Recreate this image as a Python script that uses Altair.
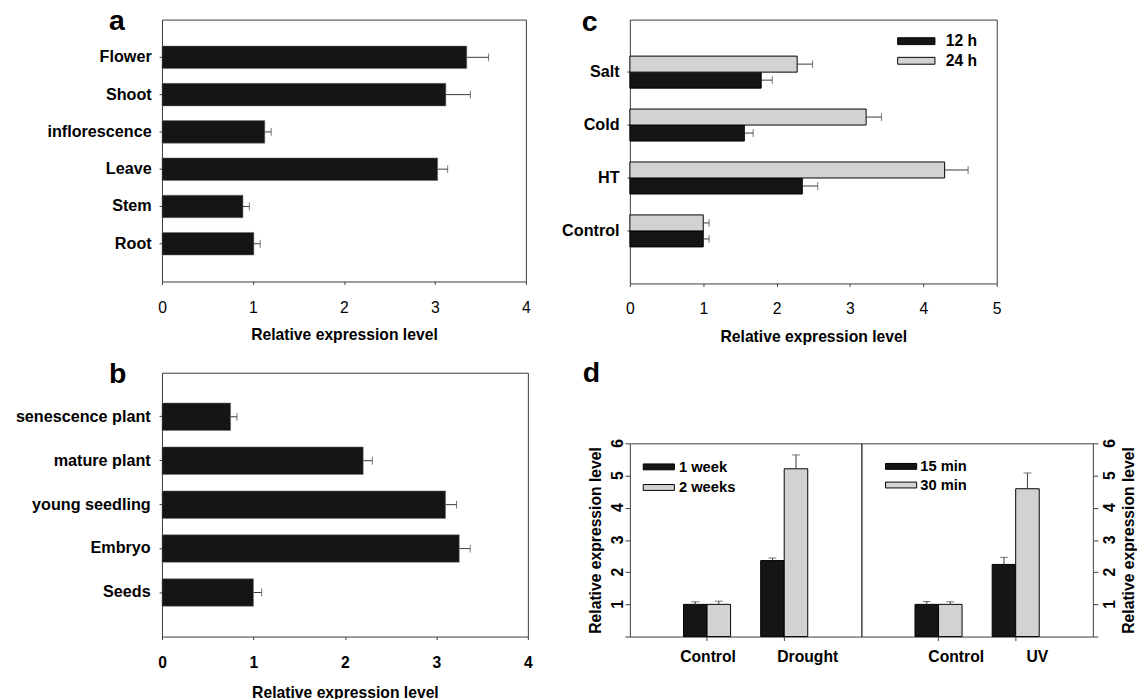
import altair as alt
import pandas as pd

# ---------------- data ----------------
# panel a
tissues = ["Flower", "Shoot", "inflorescence", "Leave", "Stem", "Root"]
tissue_mean = [3.35, 3.12, 1.13, 3.03, 0.89, 1.01]
tissue_err = [3.59, 3.39, 1.20, 3.14, 0.96, 1.08]

# panel b
stages = ["senescence plant", "mature plant", "young seedling", "Embryo", "Seeds"]
stage_mean = [0.75, 2.20, 3.10, 3.25, 1.00]
stage_err = [0.82, 2.30, 3.22, 3.37, 1.09]

# panel c
stresses = ["Salt", "Cold", "HT", "Control"]
times_c = ["12 h", "24 h"]
c_12h = [1.79, 1.56, 2.35, 1.00]
c_12h_err = [1.94, 1.68, 2.56, 1.08]
c_24h = [2.28, 3.22, 4.29, 1.00]
c_24h_err = [2.49, 3.43, 4.61, 1.08]

# panel d (left)
d1_cats = ["Control", "Drought"]
d1_series = ["1 week", "2 weeks"]
d1_s1 = [1.00, 2.36]
d1_s1_err = [1.08, 2.44]
d1_s2 = [1.00, 5.21]
d1_s2_err = [1.10, 5.64]

# panel d (right)
d2_cats = ["Control", "UV"]
d2_series = ["15 min", "30 min"]
d2_s1 = [1.00, 2.24]
d2_s1_err = [1.09, 2.46]
d2_s2 = [1.00, 4.59]
d2_s2_err = [1.08, 5.08]

panel_letters = ["a", "b", "c", "d"]
d_ticks = [0, 1, 2, 3, 4, 5, 6]
d_tick_labels = [1, 2, 3, 4, 5, 6]

# ---------------- style ----------------
FONT = "Liberation Sans"
BLACK = "#151515"
GRAY = "#d2d2d2"
FRAME = "#3a3a3a"
ERR = "#3a3a3a"
TITLE = "Relative expression level"
LAB = 16.5
NBSP = "\u00a0"


def letter(t, dx, dy):
    return alt.Chart(pd.DataFrame({"t": [t]})).mark_text(
        font=FONT, fontSize=29, fontWeight="bold", color="black",
        align="left", baseline="alphabetic"
    ).encode(text="t:N", x=alt.value(dx), y=alt.value(dy))


def hbar(cats, means, errs, width, height, pin, pout, xmax, tick_bold, lab_pad,
         x_lab_pad, x_title_pad, let, lab_expr):
    df = pd.DataFrame({"cat": cats, "mean": means, "err": errs})
    y = alt.Y("cat:N", sort=cats,
              scale=alt.Scale(domain=cats, paddingInner=pin, paddingOuter=pout),
              axis=alt.Axis(title=None, labelFontWeight="bold", labelFontSize=LAB,
                            tickSize=3, labelPadding=lab_pad, labelExpr=lab_expr))
    xax = alt.Axis(values=list(range(xmax + 1)), format="d", title=TITLE, labelFontSize=16,
                   labelFontWeight="bold" if tick_bold else "normal", tickSize=3,
                   labelPadding=x_lab_pad, titlePadding=x_title_pad, labelFlush=False)
    xs = alt.Scale(domain=[0, xmax], nice=False)
    base = alt.Chart(df)
    bars = base.mark_bar(color=BLACK, stroke="#707070", strokeWidth=0.5).encode(
        x=alt.X("mean:Q", scale=xs, axis=xax), y=y)
    rule = base.mark_rule(color=ERR, strokeWidth=1).encode(
        x="mean:Q", x2="err:Q", y=y)
    cap = base.mark_tick(color=ERR, orient="vertical", size=8, thickness=1).encode(
        x="err:Q", y=y)
    return alt.layer(bars, rule, cap, let).properties(width=width, height=height)


chart_a = hbar(tissues, tissue_mean, tissue_err, 371, 267, 0.395, 0.71, 4, False, 8,
               16, 11, letter(panel_letters[0], -54, 11),
               "datum.value == 'Shoot' ? 'Shoot" + NBSP + "' : datum.value")
chart_b = hbar(stages, stage_mean, stage_err, 373, 269, 0.374, 0.69, 4, True, 9,
               16, 14, letter(panel_letters[1], -54, 10), "datum.value")

# panel c
dfc = pd.DataFrame({
    "cat": stresses * 2,
    "series": [times_c[0]] * 4 + [times_c[1]] * 4,
    "mean": c_12h + c_24h,
    "err": c_12h_err + c_24h_err,
})
yc = alt.Y("cat:N", sort=stresses,
           scale=alt.Scale(domain=stresses, paddingInner=0.395, paddingOuter=0.69),
           axis=alt.Axis(title=None, labelFontWeight="bold", labelFontSize=LAB,
                         tickSize=3, labelPadding=8,
                         labelExpr="datum.value == 'Cold' ? 'Cold" + NBSP + "' : datum.value"))
yoc = alt.YOffset("series:N", sort=["24 h", "12 h"],
                  scale=alt.Scale(domain=["24 h", "12 h"], paddingInner=0, paddingOuter=0))
xc = alt.X("mean:Q", scale=alt.Scale(domain=[0, 5], nice=False),
           axis=alt.Axis(values=[0, 1, 2, 3, 4, 5], format="d", title=TITLE, labelFontSize=16,
                         tickSize=3, labelPadding=15, titlePadding=12, labelFlush=False))
colc = alt.Color("series:N", scale=alt.Scale(domain=times_c, range=[BLACK, GRAY]),
                 legend=alt.Legend(orient="none", legendX=284, legendY=14, title=None,
                                   symbolType="M-5.43,-1H5.43V1H-5.43Z", symbolSize=49,
                                   symbolStrokeColor="black", symbolStrokeWidth=1,
                                   symbolOpacity=1, labelFontSize=16, labelFontWeight="bold",
                                   labelOffset=22, rowPadding=4, padding=0))
basec = alt.Chart(dfc)
chart_c = alt.layer(
    basec.mark_bar(stroke="black", strokeWidth=1, opacity=1).encode(x=xc, y=yc, yOffset=yoc, color=colc),
    basec.mark_rule(color=ERR).encode(x="mean:Q", x2="err:Q", y=yc, yOffset=yoc),
    basec.mark_tick(color=ERR, orient="vertical", size=8, thickness=1).encode(x="err:Q", y=yc, yOffset=yoc),
    letter(panel_letters[2], -49, 12),
).properties(width=374, height=269)


def dpanel(cats, series, s1, s1e, s2, s2e, yax, lab_x, lab_off, lx, ly, lof, rpad, extra):
    df = pd.DataFrame({
        "cat": cats * 2,
        "series": [series[0]] * 2 + [series[1]] * 2,
        "mean": s1 + s2,
        "err": s1e + s2e,
    })
    x = alt.X("cat:N", sort=cats,
              scale=alt.Scale(domain=cats, paddingInner=0.39, paddingOuter=0.695),
              axis=alt.Axis(title=None, labelAngle=0, labelFontWeight="bold", labelFontSize=16,
                            tickSize=4, labelPadding=8, labelOffset=lab_off))
    xo = alt.XOffset("series:N", sort=series,
                     scale=alt.Scale(domain=series, paddingInner=0, paddingOuter=0))
    ys = alt.Scale(domain=[0, 6], nice=False)
    col = alt.Color("series:N", scale=alt.Scale(domain=series, range=[BLACK, GRAY]),
                    legend=alt.Legend(orient="none", legendX=lx, legendY=ly, title=None,
                                      symbolType="M-5.3,-1H5.3V1H-5.3Z", symbolSize=36,
                                      symbolStrokeColor="black", symbolStrokeWidth=1,
                                      symbolOpacity=1, labelFontSize=15, labelFontWeight="bold",
                                      labelOffset=lof, rowPadding=rpad, padding=0))
    base = alt.Chart(df)
    ticklab = alt.Chart(pd.DataFrame({"v": d_tick_labels})).mark_text(
        angle=270, align="center", baseline="middle", font=FONT, fontSize=16,
        fontWeight="bold", color="black"
    ).encode(y=alt.Y("v:Q", scale=ys, axis=yax), x=alt.value(lab_x),
             text=alt.Text("v:Q", format="d"))
    layers = [
        base.mark_bar(stroke="black", strokeWidth=1, opacity=1).encode(
            x=x, xOffset=xo, y=alt.Y("mean:Q", scale=ys, axis=yax), color=col),
        base.mark_rule(color=ERR).encode(
            x=x, xOffset=xo, y=alt.Y("mean:Q", scale=ys, axis=yax), y2="err:Q"),
        base.mark_tick(color=ERR, orient="horizontal", size=8, thickness=1).encode(
            x=x, xOffset=xo, y=alt.Y("err:Q", scale=ys, axis=yax)),
        ticklab,
    ] + extra
    return alt.layer(*layers).properties(width=236, height=197)


yax_left = alt.Axis(orient="left", values=d_ticks, labels=False, tickSize=5,
                    title=TITLE, titleAngle=270, titleBaseline="bottom", titlePadding=21)
yax_right = alt.Axis(orient="right", values=d_ticks, labels=False, tickSize=5,
                     title=TITLE, titleAngle=270, titleBaseline="top", titlePadding=23)

d_left = dpanel(d1_cats, d1_series, d1_s1, d1_s1_err, d1_s2, d1_s2_err, yax_left, -12.5,
                alt.condition("datum.value == 'Drought'", alt.value(24), alt.value(1)),
                22, 16.5, 13, 5, [letter(panel_letters[3], -48, -63)])
d_right = dpanel(d2_cats, d2_series, d2_s1, d2_s1_err, d2_s2, d2_s2_err, yax_right, 253.5,
                 alt.condition("datum.value == 'UV'", alt.value(22), alt.value(18)),
                 33, 16, 12, 3, [])

d_chart = alt.hconcat(d_left, d_right, spacing=0, bounds="flush").resolve_scale(
    color="independent", x="independent", y="independent", xOffset="independent")

left_col = alt.vconcat(chart_a, chart_b, spacing=93, bounds="flush")
right_col = alt.vconcat(chart_c, d_chart, spacing=163, bounds="flush").resolve_scale(
    color="independent", y="independent", x="independent")

chart = alt.hconcat(left_col, right_col, spacing=28).resolve_scale(
    color="independent", x="independent", y="independent"
).properties(
    padding={"left": 6, "top": -8, "right": 0, "bottom": 0}
).configure_view(
    stroke=FRAME, strokeWidth=1
).configure_axis(
    labelFont=FONT, titleFont=FONT, labelColor="black", titleColor="black",
    tickColor=FRAME, domain=False, grid=False, titleFontSize=16, titleFontWeight="bold",
    labelOverlap=False
).configure_legend(
    labelFont=FONT, labelColor="black"
)

chart.save("out.html", embed_options={"renderer": "svg", "actions": False})
